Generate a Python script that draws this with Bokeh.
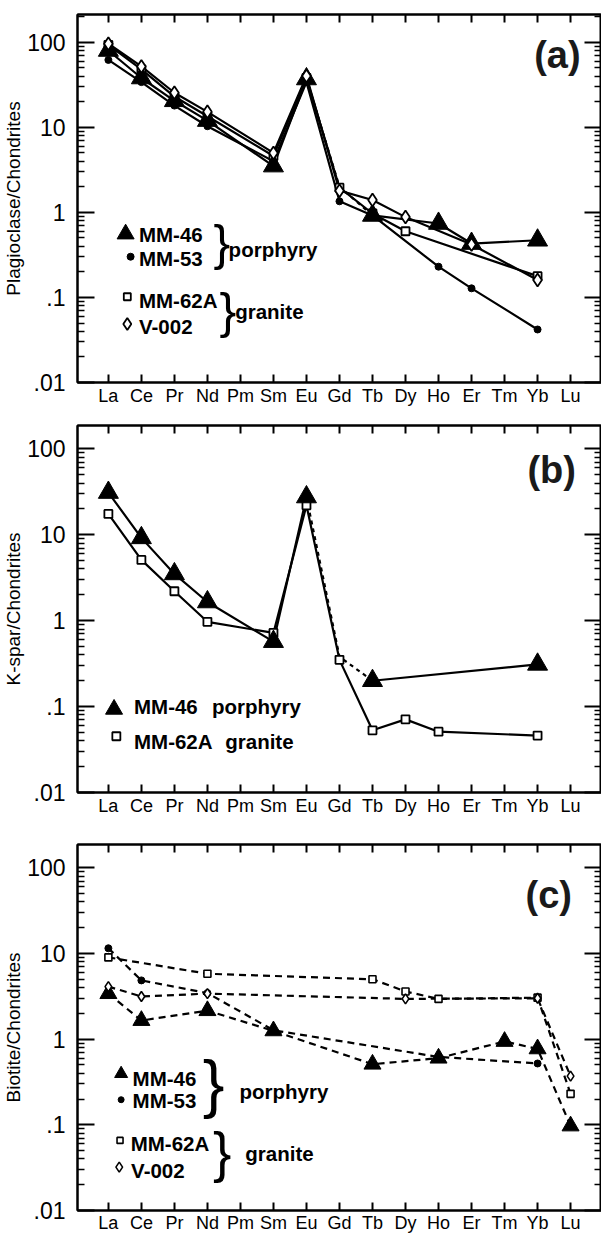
from bokeh.plotting import figure
from bokeh.models import Range1d, FixedTicker, LinearAxis, LogAxis, Label, CustomJSTickFormatter
from bokeh.layouts import column
from bokeh.embed import file_html
from bokeh.resources import INLINE

# ---------------- data ----------------
ELEMENTS = ["La", "Ce", "Pr", "Nd", "Pm", "Sm", "Eu", "Gd", "Tb", "Dy", "Ho", "Er", "Tm", "Yb", "Lu"]
Y_TICK_VALUES = [0.01, 0.1, 1, 10, 100]

# (a) Plagioclase / chondrites
A_MM46_EL = ["La", "Ce", "Pr", "Nd", "Sm", "Eu", "Tb", "Ho", "Er", "Yb"]
A_MM46 = [80, 38, 20.5, 12, 3.5, 37, 0.92, 0.74, 0.43, 0.47]
A_MM46_GAP_EL = ["Eu", "Gd", "Tb"]
A_MM46_GAP = [37, 2.0, 0.92]
A_MM53_EL = ["La", "Ce", "Pr", "Nd", "Sm", "Eu", "Gd", "Tb", "Ho", "Er", "Yb"]
A_MM53 = [62, 34, 18, 10.3, 4.0, 34, 1.35, 0.92, 0.23, 0.128, 0.042]
A_MM62A_EL = ["La", "Ce", "Pr", "Nd", "Sm", "Eu", "Gd", "Tb", "Dy", "Yb"]
A_MM62A = [93, 48, 23, 13.5, 4.6, 38, 1.95, 0.97, 0.6, 0.178]
A_V002_EL = ["La", "Ce", "Pr", "Nd", "Sm", "Eu", "Gd", "Tb", "Dy", "Er", "Yb"]
A_V002 = [96, 52, 25.5, 15.2, 5.0, 40, 1.8, 1.4, 0.88, 0.42, 0.16]

# (b) K-spar / chondrites
B_MM46_EL = ["La", "Ce", "Pr", "Nd", "Sm", "Eu", "Tb", "Yb"]
B_MM46 = [31, 9.2, 3.5, 1.65, 0.57, 27.5, 0.2, 0.31]
B_MM46_GAP_EL = ["Eu", "Gd", "Tb"]
B_MM46_GAP = [27.5, 0.38, 0.2]
B_MM62A_EL = ["La", "Ce", "Pr", "Nd", "Sm", "Eu", "Gd", "Tb", "Dy", "Ho", "Yb"]
B_MM62A = [17.5, 5.1, 2.2, 0.97, 0.72, 22, 0.35, 0.053, 0.071, 0.051, 0.046]

# (c) Biotite / chondrites
C_MM46_EL = ["La", "Ce", "Nd", "Sm", "Tb", "Ho", "Tm", "Yb", "Lu"]
C_MM46 = [3.4, 1.65, 2.15, 1.25, 0.51, 0.6, 0.94, 0.77, 0.097]
C_MM53_EL = ["La", "Ce", "Nd", "Sm", "Ho", "Yb"]
C_MM53 = [11.5, 4.85, 3.45, 1.27, 0.62, 0.52]
C_MM62A_EL = ["La", "Nd", "Tb", "Dy", "Ho", "Yb", "Lu"]
C_MM62A = [9.0, 5.8, 5.0, 3.6, 2.95, 3.05, 0.23]
C_V002_EL = ["La", "Ce", "Nd", "Dy", "Yb", "Lu"]
C_V002 = [4.1, 3.15, 3.4, 2.95, 3.0, 0.37]

# ---------------- helpers ----------------
FONT = "Liberation Sans"
LEG = 20.5
XPOS = {e: i + 1 for i, e in enumerate(ELEMENTS)}
PX_PER_X = 33.14
X_RANGE = (1 + (75 - 106) / PX_PER_X, 1 + (601 - 106) / PX_PER_X)
REF = {"a": (41.7, 85.0), "b": (448.3, 86.0), "c": (867.3, 85.7)}


def xs(els):
    return [XPOS[e] for e in els]


def dx(px):
    return 1 + (px - 106.0) / PX_PER_X


def dy(tag, py):
    y100, dec = REF[tag]
    return 10 ** (2 - (py - y100) / dec)


MARKERS = {
    "MM-46": dict(marker="triangle", fill_color="black"),
    "MM-53": dict(marker="circle", fill_color="black"),
    "MM-62A": dict(marker="square", fill_color="white"),
    "V-002": dict(marker="diamond", fill_color="white"),
}


def make_fig(tag, y_top, height, b_top, frame_h, ylabel, x_standoff=3):
    p = figure(width=601, height=height, y_axis_type="log",
               x_range=Range1d(*X_RANGE), y_range=Range1d(0.01, y_top),
               output_backend="svg", toolbar_location=None,
               min_border_left=75, min_border_right=0, min_border_top=b_top,
               min_border_bottom=height - b_top - frame_h)
    p.grid.visible = False
    p.outline_line_color = "black"
    p.outline_line_width = 2
    p.background_fill_color = "white"
    p.border_fill_color = "white"

    minor = [m * 10.0 ** d for d in range(-2, 3) for m in range(2, 10) if m * 10.0 ** d < y_top]
    yt = FixedTicker(ticks=Y_TICK_VALUES, minor_ticks=minor)
    xt = FixedTicker(ticks=list(range(1, 16)), minor_ticks=[])

    xb = p.xaxis[0]
    xb.ticker = xt
    xb.formatter = CustomJSTickFormatter(args=dict(names=ELEMENTS),
                                         code="return names[Math.round(tick) - 1] || '';")
    xb.major_label_text_font = FONT
    xb.major_label_text_font_size = "18px"
    xb.major_label_text_color = "black"
    xb.major_label_standoff = x_standoff

    yl = p.yaxis[0]
    yl.ticker = yt
    yl.formatter = CustomJSTickFormatter(
        code="return tick >= 1 ? tick.toFixed(0) : String(tick).replace(/^0/, '');")
    yl.major_label_text_font = FONT
    yl.major_label_text_font_size = "23px"
    yl.major_label_text_color = "black"
    yl.major_label_standoff = 12
    yl.axis_label = ylabel
    yl.axis_label_text_font = FONT
    yl.axis_label_text_font_size = "19px"
    yl.axis_label_text_font_style = "normal"
    yl.axis_label_text_color = "black"
    yl.axis_label_standoff = 0

    xtop = LinearAxis(ticker=xt)
    yr = LogAxis(ticker=yt)
    for ax in (xtop, yr):
        ax.major_label_text_font_size = "0px"
        ax.major_label_standoff = 0
        ax.major_label_text_alpha = 0
    p.add_layout(xtop, "above")
    p.add_layout(yr, "right")

    for ax in (xb, xtop):
        ax.major_tick_in = 8
        ax.major_tick_out = 0
        ax.minor_tick_in = 0
        ax.minor_tick_out = 0
        ax.axis_line_width = 2
        ax.major_tick_line_width = 2
    for ax in (yl, yr):
        ax.major_tick_in = 17
        ax.major_tick_out = 0
        ax.minor_tick_in = 7
        ax.minor_tick_out = 0
        ax.axis_line_width = 2
        ax.major_tick_line_width = 2
        ax.minor_tick_line_width = 1.6
    return p


def solid_series(p, els, vals, break_after=None, dash="solid"):
    if break_after is None:
        p.line(xs(els), vals, line_color="black", line_width=2.2, line_dash=dash)
        return
    i = els.index(break_after) + 1
    p.line(xs(els[:i]), vals[:i], line_color="black", line_width=2.2, line_dash=dash)
    p.line(xs(els[i:]), vals[i:], line_color="black", line_width=2.2, line_dash=dash)


def markers(p, name, els, vals, size, lw=1.8):
    m = MARKERS[name]
    p.scatter(xs(els), vals, marker=m["marker"], size=size, fill_color=m["fill_color"],
              line_color="black", line_width=lw)


def legend_marker(p, tag, name, px, py, size, lw=1.8):
    m = MARKERS[name]
    p.scatter([dx(px)], [dy(tag, py)], marker=m["marker"], size=size, fill_color=m["fill_color"],
              line_color="black", line_width=lw)


def text(p, tag, s, px, py, size, style="bold", align="left", font=FONT, color="black"):
    # py is the vertical middle of the text box
    p.add_layout(Label(x=dx(px), y=dy(tag, py), text=s, text_font=font,
                       text_font_size=f"{size}px", text_font_style=style,
                       text_align=align, text_baseline="middle", text_color=color))


# ---------------- panel (a) ----------------
pa = make_fig("a", 212, 419, 14, 368, "Plagioclase/Chondrites")
solid_series(pa, A_MM46_EL, A_MM46, break_after="Eu")
pa.line(xs(A_MM46_GAP_EL), A_MM46_GAP, line_color="black", line_width=2.2, line_dash="4 4")
solid_series(pa, A_MM53_EL, A_MM53)
solid_series(pa, A_MM62A_EL, A_MM62A)
solid_series(pa, A_V002_EL, A_V002)
markers(pa, "MM-62A", A_MM62A_EL, A_MM62A, 8)
markers(pa, "MM-46", A_MM46_EL, A_MM46, 20, 1)
markers(pa, "MM-53", A_MM53_EL, A_MM53, 7, 1)
markers(pa, "V-002", A_V002_EL, A_V002, 13)

legend_marker(pa, "a", "MM-46", 123.3, 233.3, 17, 1)
legend_marker(pa, "a", "MM-53", 128.3, 256.0, 7, 1)
legend_marker(pa, "a", "MM-62A", 125.0, 296.0, 7)
legend_marker(pa, "a", "V-002", 125.0, 323.3, 12)
text(pa, "a", "MM-46", 136.7, 233.5, LEG)
text(pa, "a", "MM-53", 136.7, 257.8, LEG)
text(pa, "a", "MM-62A", 136.7, 299.5, LEG)
text(pa, "a", "V-002", 136.7, 326.1, LEG)
text(pa, "a", "}", 220.0, 242.0, 50, style="normal", align="center")
text(pa, "a", "}", 226.0, 310.3, 50, style="normal", align="center")
text(pa, "a", "porphyry", 226.7, 248.8, LEG)
text(pa, "a", "granite", 233.3, 310.4, LEG)
text(pa, "a", "(a)", 556.7, 54.0, 38, align="center", color="#1a1a1a")

# ---------------- panel (b) ----------------
pb = make_fig("b", 187, 419, 6, 367, "K-spar/Chondrites")
solid_series(pb, B_MM46_EL, B_MM46, break_after="Eu")
pb.line(xs(B_MM46_GAP_EL), B_MM46_GAP, line_color="black", line_width=2.2, line_dash="4 4")
solid_series(pb, B_MM62A_EL, B_MM62A)
markers(pb, "MM-62A", B_MM62A_EL, B_MM62A, 8)
markers(pb, "MM-46", B_MM46_EL, B_MM46, 20, 1)

legend_marker(pb, "b", "MM-46", 111.7, 709.0, 17, 1)
legend_marker(pb, "b", "MM-62A", 114.0, 736.0, 8)
text(pb, "b", "MM-46", 131.7, 706.7, LEG)
text(pb, "b", "porphyry", 210.0, 706.7, LEG)
text(pb, "b", "MM-62A", 131.7, 741.7, LEG)
text(pb, "b", "granite", 223.3, 741.7, LEG)
text(pb, "b", "(b)", 551.0, 469.5, 38, align="center", color="#1a1a1a")

# ---------------- panel (c) ----------------
pc = make_fig("c", 187, 398, 6, 366, "Biotite/Chondrites", x_standoff=2)
for els, vals in ((C_MM46_EL, C_MM46), (C_MM53_EL, C_MM53), (C_MM62A_EL, C_MM62A), (C_V002_EL, C_V002)):
    solid_series(pc, els, vals, dash="7 5")
markers(pc, "MM-62A", C_MM62A_EL, C_MM62A, 7, 1.6)
markers(pc, "MM-53", C_MM53_EL, C_MM53, 7, 1)
markers(pc, "MM-46", C_MM46_EL, C_MM46, 17, 1)
markers(pc, "V-002", C_V002_EL, C_V002, 10, 1.6)

legend_marker(pc, "c", "MM-46", 118.8, 1073.3, 13, 1)
legend_marker(pc, "c", "MM-53", 118.8, 1099.3, 6, 1)
legend_marker(pc, "c", "MM-62A", 117.7, 1140.0, 6, 1.6)
legend_marker(pc, "c", "V-002", 116.9, 1166.7, 10, 1.6)
text(pc, "c", "MM-46", 130.3, 1078.0, LEG)
text(pc, "c", "MM-53", 130.3, 1099.8, LEG)
text(pc, "c", "MM-62A", 128.4, 1143.0, LEG)
text(pc, "c", "V-002", 128.8, 1170.3, LEG)
text(pc, "c", "}", 211.7, 1083.0, 65, style="normal", align="center")
text(pc, "c", "}", 220.3, 1151.6, 55, style="normal", align="center")
text(pc, "c", "porphyry", 237.6, 1091.4, LEG)
text(pc, "c", "granite", 243.4, 1153.0, LEG)
text(pc, "c", "(c)", 548.0, 894.5, 38, align="center", color="#1a1a1a")

layout = column(pa, pb, pc, spacing=0)
open("out.html", "w").write(file_html(layout, INLINE))
